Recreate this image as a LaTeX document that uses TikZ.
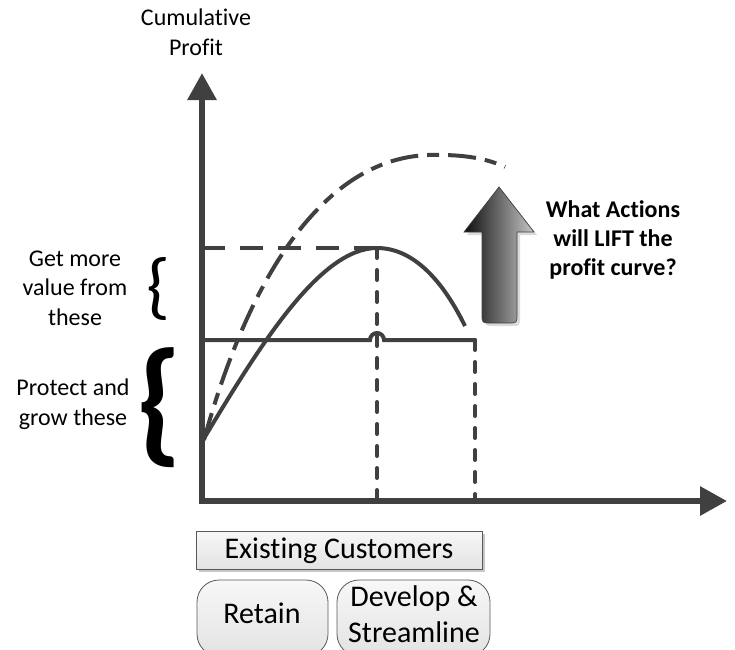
\documentclass[tikz,border=0pt]{standalone}
\usepackage{fontspec}
\setmainfont{Carlito}[Ligatures=NoCommon]
\usetikzlibrary{arrows.meta}
\definecolor{ink}{HTML}{404040}
\definecolor{boxline}{HTML}{595959}
\begin{document}
\begin{tikzpicture}[x=1pt,y=-1pt,
  axisline/.style={ink, line width=6pt, line join=miter,
    {Triangle[length=27pt,width=28pt]}-{Triangle[length=27pt,width=28pt]}},
  curve/.style={ink, line width=4pt},
  guide/.style={ink, line width=4pt, dash pattern=on 23pt off 15pt},
  drop/.style={ink, line width=4pt, line cap=round, dash pattern=on 10pt off 12pt},
  lifted/.style={ink, line width=4pt, dash pattern=on 28pt off 9pt on 12pt off 9pt},
  label/.style={inner sep=0pt, align=center, font=\fontsize{24}{29.5}\selectfont, anchor=base},
  boxlabel/.style={inner sep=0pt, align=center, font=\fontsize{30}{36}\selectfont, anchor=base},
  panel/.style={draw=boxline, line width=0.8pt, top color=black!3, bottom color=black!11},
  panelshadow/.style={fill=black!22, draw=none}
]
\useasboundingbox (0,0) rectangle (735,649);

% key points of the chart
\coordinate (O) at (202,501);
\coordinate (ytip) at (202,73);
\coordinate (xtip) at (727,501);
\coordinate (hL) at (202,340);
\coordinate (hopL) at (370,340);
\coordinate (hR) at (475,340);
\coordinate (dL) at (202,248);
\coordinate (peak) at (377,248);
\coordinate (peakB) at (377,501);
\coordinate (endB) at (475,501);
\coordinate (cs) at (203,440);
\coordinate (ce) at (465,326);
\coordinate (ds) at (204,440);
\coordinate (dp) at (440,155);
\coordinate (de) at (505,167);

% guide lines
\draw[guide] (dL) -- (peak);
\draw[drop] (peak) -- (peakB);
\draw[drop] (hR) -- (endB);

% current profit curve
\draw[curve] (cs) .. controls (260,345) and (320,248) .. (peak)
             .. controls (410,248) and (440,275) .. (ce);

% lifted profit curve
\draw[lifted] (ds) .. controls (245,290) and (320,150) .. (dp)
              .. controls (470,155) and (490,160) .. (de);

% level of existing profit, hopping over the dashed drop line
\draw[curve, line cap=round] (hL) -- (hopL) arc (180:360:7) -- (hR);

% axes
\draw[axisline] (ytip) -- (O) -- (xtip);

% gradient arrow with its shadow
\fill[black!14] (502,190) -- (537,235) -- (520,235) -- (520,317)
   .. controls (520,326) .. (511,326) -- (494,326)
   .. controls (485,326) .. (485,317) -- (485,235) -- (467,235) -- cycle;
\draw[draw=ink, line width=0.7pt, left color=black!95, right color=black!22]
   (499,187) -- (534,232) -- (517,232) -- (517,314)
   .. controls (517,323) .. (508,323) -- (491,323)
   .. controls (482,323) .. (482,314) -- (482,232) -- (464,232) -- cycle;

% texts (base anchor sits on the last line)
\node[label] (ylabel) at (196,55) {Cumulative\\Profit};
\node[label] (more) at (75,325) {Get more\\value from\\these};
\node[label] (protect) at (73,425) {Protect and\\grow these};
\node[label, font=\fontsize{24}{29}\selectfont\bfseries] (question) at (613,275)
  {What Actions\\will LIFT the\\profit curve?};

% braces
\node[inner sep=0pt] (braceA) at (158,288.5) {\resizebox*{24pt}{63pt}{\{}};
\node[inner sep=0pt] (braceB) at (159,408) {\resizebox*{46pt}{120pt}{\bfseries\{}};

% customer boxes
\fill[panelshadow] (199,534) rectangle (485,572);
\node[panel, minimum width=286pt, minimum height=38pt, inner sep=0pt] (existing) at (339,550) {};
\node[boxlabel] (existingtxt) at (339,558) {Existing Customers};

\draw[panel, rounded corners=22pt] (197,580) rectangle (328,656);
\node[boxlabel] (retain) at (262,623) {Retain};
\draw[panel, rounded corners=22pt] (337,580) rectangle (490,656);
\node[boxlabel] (develop) at (414,642) {Develop \&\\Streamline};
\end{tikzpicture}
\end{document}
